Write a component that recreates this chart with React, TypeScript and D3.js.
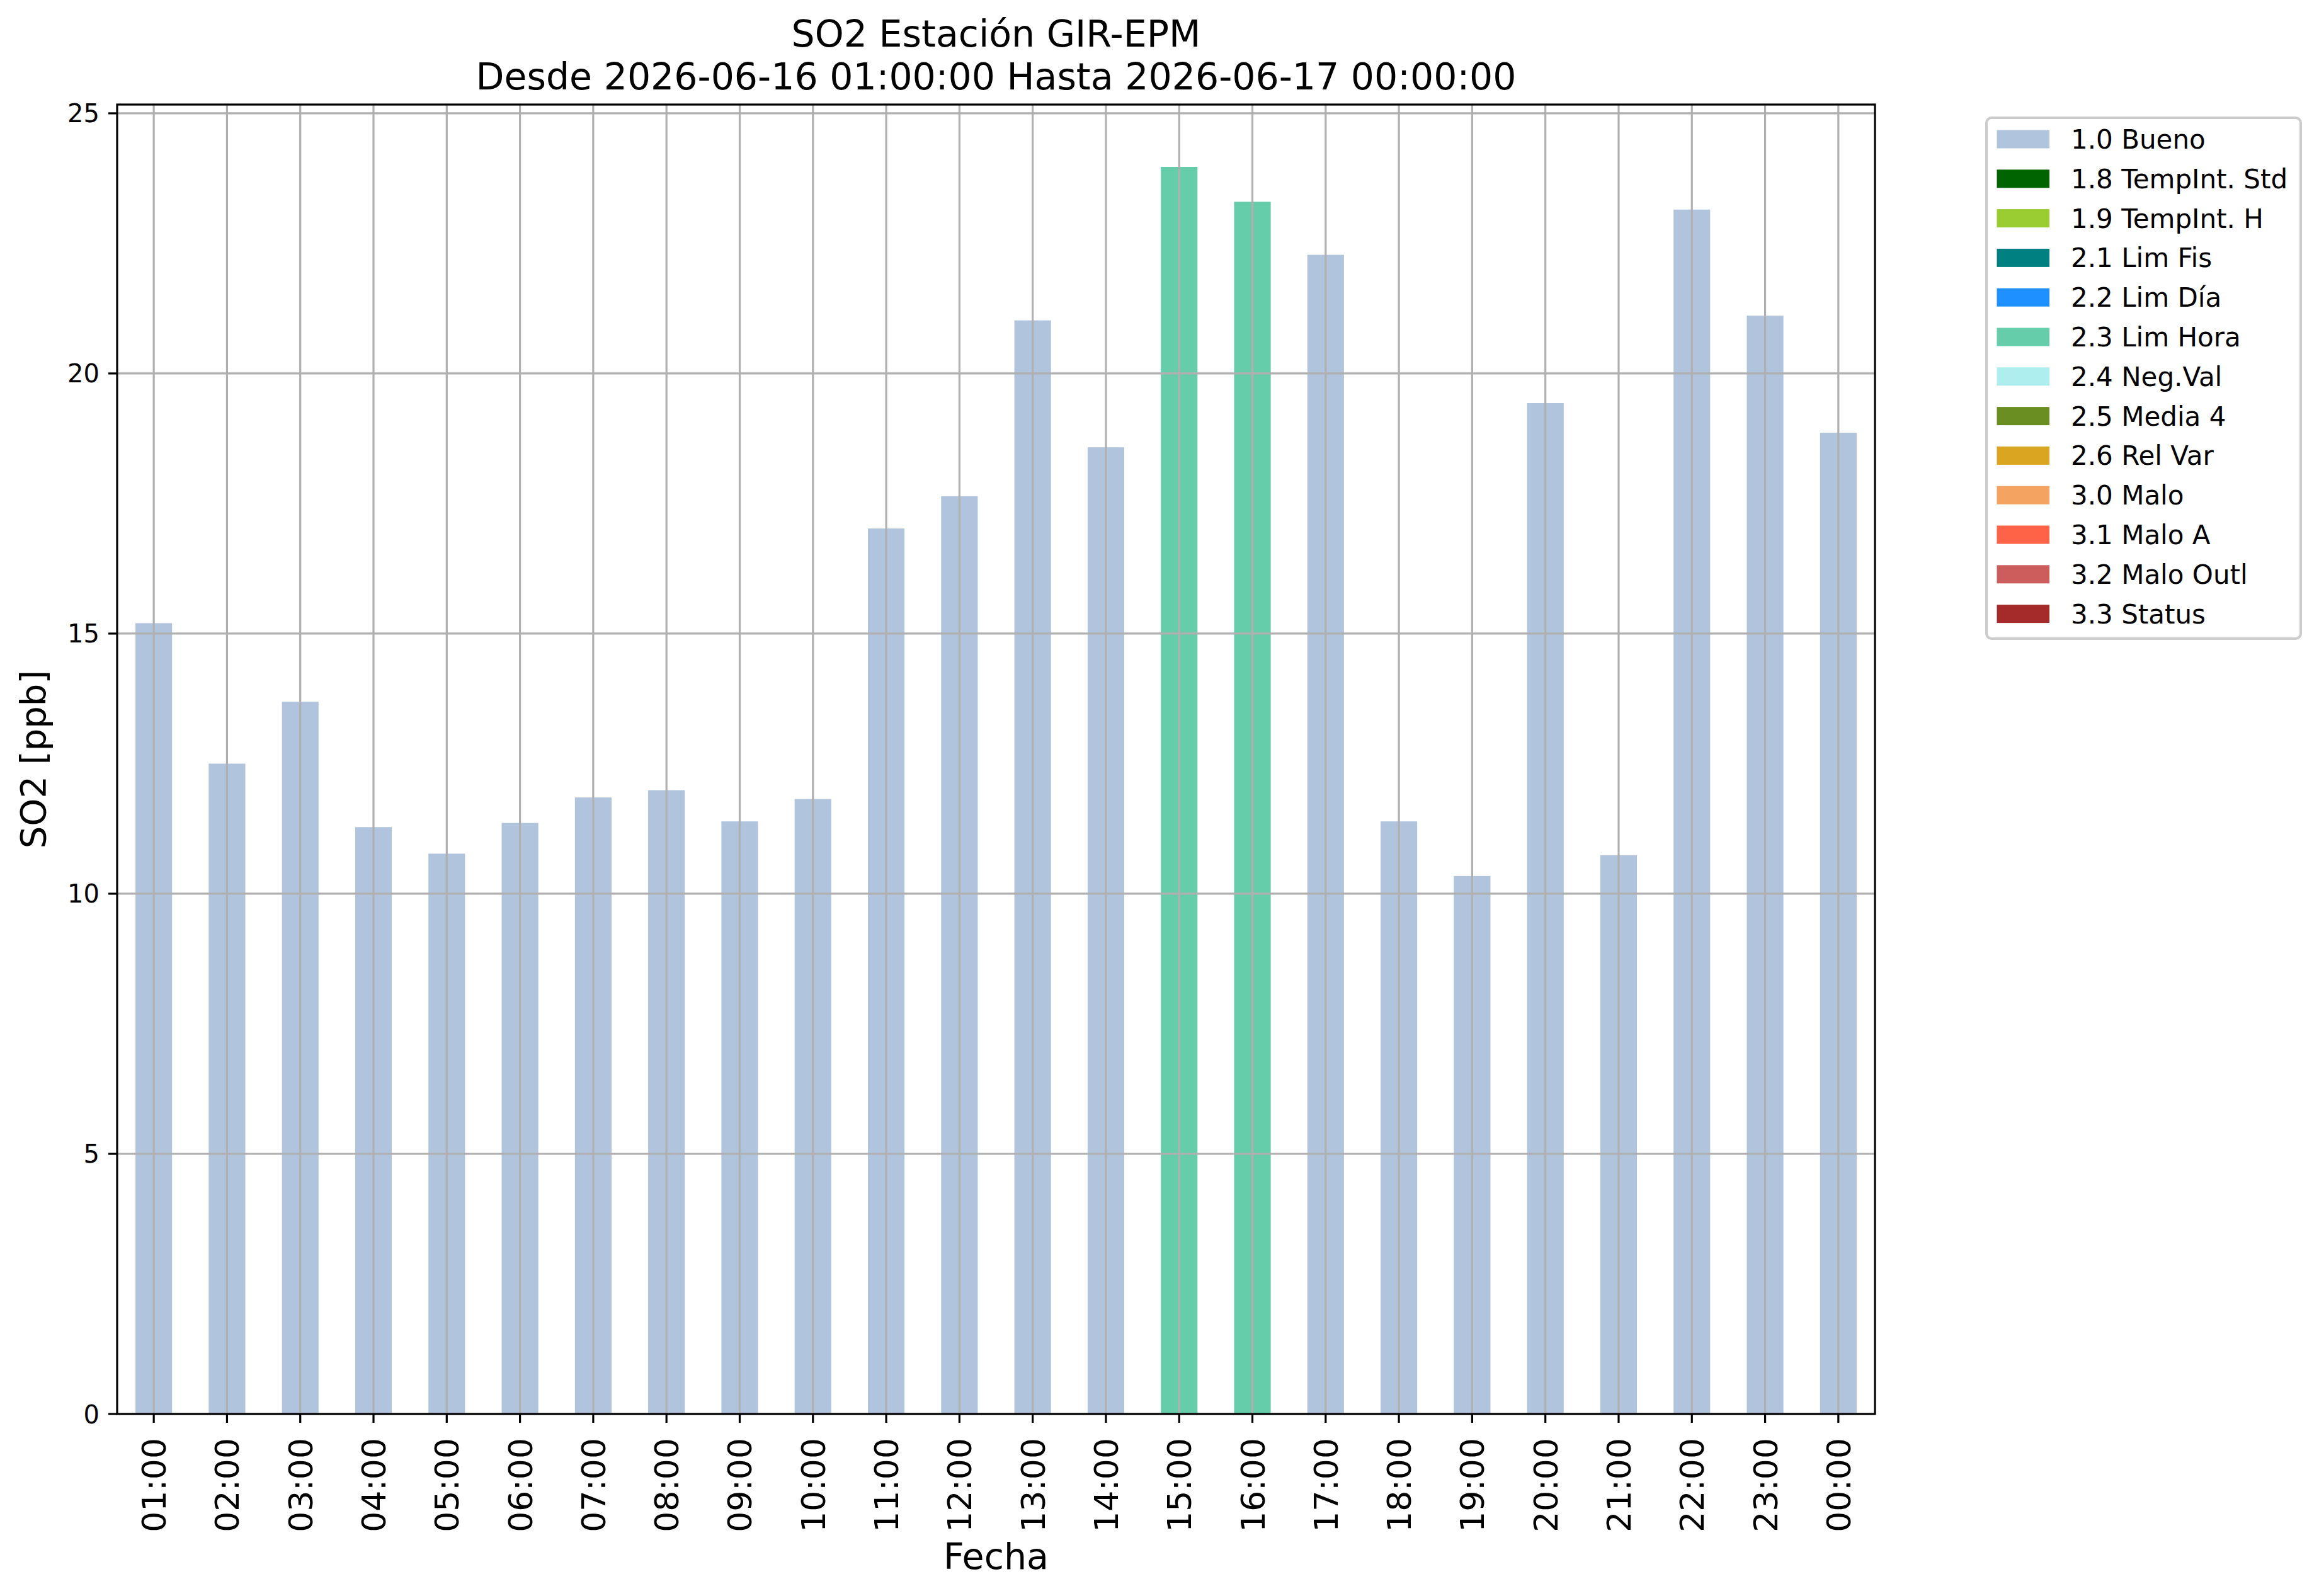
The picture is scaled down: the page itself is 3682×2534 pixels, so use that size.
import * as d3 from "d3";
import { useEffect, useRef } from "react";

const hours = [
  "01:00", "02:00", "03:00", "04:00", "05:00", "06:00", "07:00", "08:00",
  "09:00", "10:00", "11:00", "12:00", "13:00", "14:00", "15:00", "16:00",
  "17:00", "18:00", "19:00", "20:00", "21:00", "22:00", "23:00", "00:00",
];

const so2Values = [
  15.2, 12.5, 13.69, 11.28, 10.77, 11.36, 11.85, 11.99,
  11.39, 11.82, 17.02, 17.64, 21.02, 18.58, 23.97, 23.3,
  22.28, 11.39, 10.34, 19.43, 10.74, 23.15, 21.11, 18.86,
];

// quality flag per hour
const flags = [
  "1.0", "1.0", "1.0", "1.0", "1.0", "1.0", "1.0", "1.0",
  "1.0", "1.0", "1.0", "1.0", "1.0", "1.0", "2.3", "2.3",
  "1.0", "1.0", "1.0", "1.0", "1.0", "1.0", "1.0", "1.0",
];

const legendCodes = ["1.0", "1.8", "1.9", "2.1", "2.2", "2.3", "2.4", "2.5", "2.6", "3.0", "3.1", "3.2", "3.3"];
const legendNames = [
  "1.0 Bueno", "1.8 TempInt. Std", "1.9 TempInt. H", "2.1 Lim Fis", "2.2 Lim Día",
  "2.3 Lim Hora", "2.4 Neg.Val", "2.5 Media 4", "2.6 Rel Var", "3.0 Malo",
  "3.1 Malo A", "3.2 Malo Outl", "3.3 Status",
];
const legendColors = [
  "#b0c4de", "#006400", "#9acd32", "#008080", "#1e90ff", "#66cdaa", "#afeeee",
  "#6b8e23", "#daa520", "#f4a460", "#ff6347", "#cd5c5c", "#a52a2a",
];

const yTicks = [0, 5, 10, 15, 20, 25];

const W = 3682;
const H = 2534;
const FONT = "DejaVu Sans";

export const App = () => {
  const ref = useRef<SVGSVGElement>(null);

  useEffect(() => {
    document.body.style.margin = "0";
    const svg = d3.select(ref.current);
    svg.selectAll("*").remove(); // reset

    const left = 186, right = 2977, top = 166, bottom = 2245;

    const x = d3.scaleBand().domain(hours).range([left, right]).paddingInner(0.5).paddingOuter(0.25);
    const y = d3.scaleLinear().domain([0, d3.max(so2Values)! * 1.05]).range([bottom, top]);
    const color = d3.scaleOrdinal<string, string>().domain(legendCodes).range(legendColors);
    const cx = (h: string) => x(h)! + x.bandwidth() / 2;

    svg.append("rect").attr("width", W).attr("height", H).attr("fill", "white");

    // bars
    svg
      .selectAll("rect.bar")
      .data(so2Values)
      .join("rect")
      .attr("class", "bar")
      .attr("x", (_, i) => x(hours[i])!)
      .attr("y", (d) => y(d))
      .attr("width", x.bandwidth())
      .attr("height", (d) => y(0) - y(d))
      .attr("fill", (_, i) => color(flags[i]));

    // grid on top of bars
    const grid = svg.append("g").attr("stroke", "#b0b0b0").attr("stroke-width", 3.2);
    grid
      .selectAll("line.v")
      .data(hours)
      .join("line")
      .attr("x1", cx)
      .attr("x2", cx)
      .attr("y1", top)
      .attr("y2", bottom);
    grid
      .selectAll("line.h")
      .data(yTicks)
      .join("line")
      .attr("class", "h")
      .attr("x1", left)
      .attr("x2", right)
      .attr("y1", (d) => y(d))
      .attr("y2", (d) => y(d));

    // frame
    svg
      .append("rect")
      .attr("x", left)
      .attr("y", top)
      .attr("width", right - left)
      .attr("height", bottom - top)
      .attr("fill", "none")
      .attr("stroke", "black")
      .attr("stroke-width", 3.2);

    // y ticks
    const yt = svg.append("g").attr("font-family", FONT).attr("font-size", 40);
    yt.selectAll("line")
      .data(yTicks)
      .join("line")
      .attr("x1", left - 14)
      .attr("x2", left)
      .attr("y1", (d) => y(d))
      .attr("y2", (d) => y(d))
      .attr("stroke", "black")
      .attr("stroke-width", 3.2);
    yt.selectAll("text")
      .data(yTicks)
      .join("text")
      .attr("x", left - 28)
      .attr("y", (d) => y(d) + 14.5)
      .attr("text-anchor", "end")
      .text((d) => d);

    // x ticks
    const xt = svg.append("g").attr("font-family", FONT).attr("font-size", 52);
    xt.selectAll("line")
      .data(hours)
      .join("line")
      .attr("x1", cx)
      .attr("x2", cx)
      .attr("y1", bottom)
      .attr("y2", bottom + 14)
      .attr("stroke", "black")
      .attr("stroke-width", 3.2);
    xt.selectAll("text")
      .data(hours)
      .join("text")
      .attr("transform", (d) => `translate(${cx(d) + 19},${bottom + 38}) rotate(-90)`)
      .attr("text-anchor", "end")
      .text((d) => d);

    // labels and title
    svg
      .append("text")
      .attr("transform", `translate(72,${(top + bottom) / 2}) rotate(-90)`)
      .attr("text-anchor", "middle")
      .attr("font-family", FONT)
      .attr("font-size", 56)
      .text("SO2 [ppb]");
    svg
      .append("text")
      .attr("x", (left + right) / 2)
      .attr("y", 2491)
      .attr("text-anchor", "middle")
      .attr("font-family", FONT)
      .attr("font-size", 57)
      .text("Fecha");
    const title = svg
      .append("text")
      .attr("text-anchor", "middle")
      .attr("font-family", FONT)
      .attr("font-size", 58.5);
    title.append("tspan").attr("x", (left + right) / 2).attr("y", 74).text("SO2 Estación GIR-EPM");
    title
      .append("tspan")
      .attr("x", (left + right) / 2)
      .attr("y", 142)
      .text("Desde 2026-06-16 01:00:00 Hasta 2026-06-17 00:00:00");

    // legend
    const lg = svg.append("g").attr("font-family", FONT).attr("font-size", 42);
    lg.append("rect")
      .attr("x", 3154)
      .attr("y", 187)
      .attr("width", 499)
      .attr("height", 827)
      .attr("rx", 8)
      .attr("fill", "white")
      .attr("fill-opacity", 0.8)
      .attr("stroke", "#cccccc")
      .attr("stroke-width", 4);
    const rows = lg
      .selectAll("g.row")
      .data(legendNames)
      .join("g")
      .attr("transform", (_, i) => `translate(0,${221 + i * 62.8})`);
    rows
      .append("rect")
      .attr("x", 3170.5)
      .attr("y", -14.5)
      .attr("width", 83.5)
      .attr("height", 29)
      .attr("fill", (_, i) => legendColors[i]);
    rows
      .append("text")
      .attr("x", 3288)
      .attr("y", 15)
      .text((d) => d);
  }, []);

  return <svg ref={ref} width={W} height={H} style={{ display: "block" }}></svg>;
};

export default App;
